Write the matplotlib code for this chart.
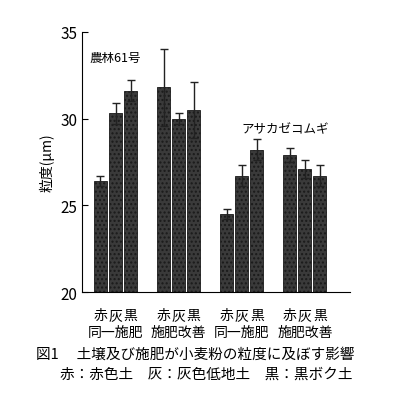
import matplotlib.pyplot as plt
import numpy as np

plt.rcParams['font.family'] = ['Noto Sans CJK JP', 'DejaVu Sans']

groups = ['同一施肥', '施肥改善', '同一施肥', '施肥改善']
soils = ['赤', '灰', '黒']
means = [[26.4, 30.3, 31.6], [31.8, 30.0, 30.5], [24.5, 26.7, 28.2], [27.9, 27.1, 26.7]]
errs = [[0.3, 0.6, 0.6], [2.2, 0.3, 1.6], [0.3, 0.6, 0.6], [0.4, 0.5, 0.6]]
group_start = [0, 4.2, 8.4, 12.6]

fig = plt.figure(figsize=(4, 4.1), dpi=100)
ax = fig.add_axes([0.205, 0.285, 0.67, 0.635])

for g in range(4):
    x = group_start[g] + np.arange(3)
    ax.bar(x, [m - 20 for m in means[g]], bottom=20, width=0.87, color='#3a3a3a',
           hatch='....', edgecolor='#1a1a1a', linewidth=0.6)
    ax.errorbar(x, means[g], yerr=errs[g], fmt='none', ecolor='#222', elinewidth=1, capsize=3)
    for xi, s in zip(x, soils):
        ax.text(xi, 19.1, s, ha='center', va='top', fontsize=10)
    ax.text(x[1], 18.1, groups[g], ha='center', va='top', fontsize=10)

ax.text(1.0, 33.5, '農林61号', ha='center', va='center', fontsize=9)
ax.text(12.3, 29.4, 'アサカゼコムギ', ha='center', va='center', fontsize=9)

ax.set_xlim(-1.23, 16.6)
ax.set_ylim(20, 35)
ax.set_yticks([20, 25, 30, 35])
ax.set_xticks([])
ax.tick_params(axis='y', direction='in', labelsize=11, length=4)
ax.set_ylabel('粒度(μm)', fontsize=10)
for s in ['top', 'right']:
    ax.spines[s].set_visible(False)

fig.text(0.09, 0.135, '図1　 土壌及び施肥が小麦粉の粒度に及ぼす影響', fontsize=10.5, va='center')
fig.text(0.15, 0.085, '赤：赤色土　灰：灰色低地土　黒：黒ボク土', fontsize=10.5, va='center')

fig.savefig('out.png')
